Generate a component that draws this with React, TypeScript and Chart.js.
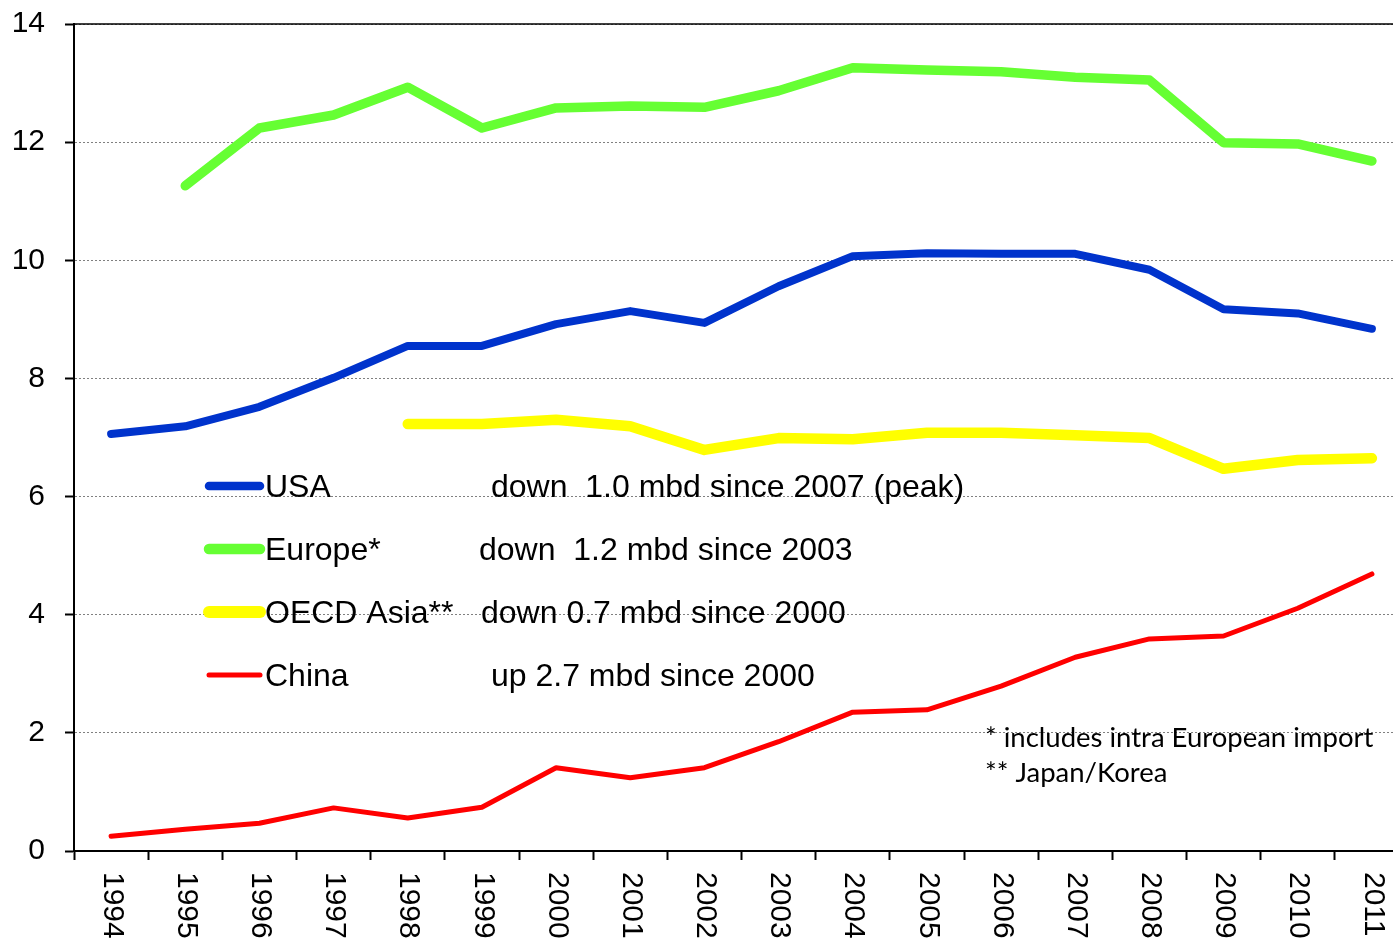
import React, { useEffect, useRef } from "react";
import { Chart, registerables } from "chart.js";

Chart.register(...registerables);

// Net oil imports, million barrels per day
const years = [
  "1994", "1995", "1996", "1997", "1998", "1999", "2000", "2001", "2002",
  "2003", "2004", "2005", "2006", "2007", "2008", "2009", "2010", "2011",
];

const usa = [
  7.06, 7.19, 7.52, 8.01, 8.55, 8.55, 8.92, 9.14, 8.94,
  9.56, 10.07, 10.12, 10.11, 10.11, 9.84, 9.17, 9.1, 8.84,
];

const europe = [
  null, 11.26, 12.24, 12.46, 12.93, 12.24, 12.58, 12.61, 12.59,
  12.87, 13.26, 13.22, 13.19, 13.1, 13.05, 11.99, 11.97, 11.68,
];

const oecdAsia = [
  null, null, null, null, 7.23, 7.23, 7.3, 7.19, 6.79,
  6.99, 6.97, 7.08, 7.08, 7.04, 6.99, 6.47, 6.62, 6.65,
];

const china = [
  0.25, 0.37, 0.47, 0.73, 0.56, 0.74, 1.41, 1.24, 1.41,
  1.85, 2.35, 2.39, 2.79, 3.28, 3.59, 3.64, 4.11, 4.69,
];

const yTicks = [0, 2, 4, 6, 8, 10, 12, 14];

const seriesNames = ["USA", "Europe*", "OECD Asia**", "China"];
const seriesNotes = [
  "down  1.0 mbd since 2007 (peak)",
  "down  1.2 mbd since 2003",
  "down 0.7 mbd since 2000",
  "up 2.7 mbd since 2000",
];
const seriesColors = ["#0033CC", "#66FF33", "#FFFF00", "#FF0000"];
const seriesWidths = [8, 9.5, 10.5, 5];
const keyWidths = [8.5, 10.5, 12, 5];

const footnotes = ["* includes intra European import", "** Japan/Korea"];

const SANS = "'Liberation Sans', Arial, sans-serif";

// Solid frame line along the top of the plot
const topFrame = {
  id: "topFrame",
  afterDatasetsDraw(chart: any) {
    const { ctx, chartArea } = chart;
    ctx.save();
    ctx.strokeStyle = "#000";
    ctx.lineWidth = 1.5;
    ctx.beginPath();
    ctx.moveTo(chartArea.left, chartArea.top);
    ctx.lineTo(chart.width, chartArea.top);
    ctx.stroke();
    ctx.restore();
  },
};

// Year labels turned to read top-to-bottom under each category
const yearLabels = {
  id: "yearLabels",
  afterDraw(chart: any) {
    const { ctx } = chart;
    const xs = chart.scales.x;
    ctx.save();
    ctx.fillStyle = "#000";
    ctx.font = `30px ${SANS}`;
    ctx.textAlign = "left";
    ctx.textBaseline = "middle";
    years.forEach((label, i) => {
      const x = xs.getPixelForValue(i);
      ctx.save();
      ctx.translate(x + 1, xs.top + 21);
      ctx.rotate(Math.PI / 2);
      ctx.fillText(label, 0, 0);
      ctx.restore();
    });
    ctx.restore();
  },
};

// Inline key with the change notes, plus the footnotes
const keyAndNotes = {
  id: "keyAndNotes",
  afterDatasetsDraw(chart: any) {
    const { ctx } = chart;
    const rowY = [486, 549, 612, 675];
    const noteX = [491, 479, 481, 491];
    ctx.save();
    ctx.lineCap = "round";
    seriesNames.forEach((name, i) => {
      const y = rowY[i];
      ctx.strokeStyle = seriesColors[i];
      ctx.lineWidth = keyWidths[i];
      ctx.beginPath();
      ctx.moveTo(209, y);
      ctx.lineTo(260, y);
      ctx.stroke();
      ctx.fillStyle = "#000";
      ctx.font = `32px ${SANS}`;
      ctx.textAlign = "left";
      ctx.textBaseline = "alphabetic";
      ctx.fillText(name, 265, y + 11);
      ctx.fillText(seriesNotes[i], noteX[i], y + 11);
    });
    ctx.font = "27.5px Lato, 'Open Sans', sans-serif";
    ctx.fillText(footnotes[0], 985, 747);
    ctx.fillText(footnotes[1], 985, 782);
    ctx.restore();
  },
};

export default function App() {
  const canvasRef = useRef<HTMLCanvasElement | null>(null);

  useEffect(() => {
    const canvas = canvasRef.current;
    if (!canvas) return;
    const makeSet = (label: string, data: (number | null)[], i: number) => ({
      label,
      data,
      borderColor: seriesColors[i],
      backgroundColor: seriesColors[i],
      borderWidth: seriesWidths[i],
      borderCapStyle: "round" as const,
      borderJoinStyle: "round" as const,
      pointRadius: 0,
      pointHoverRadius: 0,
      tension: 0,
      spanGaps: false,
      fill: false,
    });
    const chart = new Chart(canvas, {
      type: "line",
      data: {
        labels: years,
        datasets: [
          makeSet(seriesNames[3], china, 3),
          makeSet(seriesNames[2], oecdAsia, 2),
          makeSet(seriesNames[0], usa, 0),
          makeSet(seriesNames[1], europe, 1),
        ],
      },
      options: {
        responsive: false,
        animation: false,
        devicePixelRatio: 1,
        layout: { padding: { top: 24, left: 0, right: 11, bottom: 0 } },
        plugins: {
          legend: { display: false },
          tooltip: { enabled: false },
        },
        scales: {
          x: {
            type: "category",
            offset: true,
            afterFit: (s: any) => {
              s.height = 92;
            },
            grid: {
              offset: true,
              drawOnChartArea: false,
              drawTicks: true,
              tickLength: 9,
              tickColor: "#000",
              tickWidth: 2,
            },
            border: { display: true, color: "#000", width: 2 },
            ticks: { display: false },
          },
          y: {
            min: 0,
            max: 14,
            afterFit: (s: any) => {
              s.width = 74;
              s.paddingTop = 0;
              s.paddingBottom = 0;
            },
            afterBuildTicks: (s: any) => {
              s.ticks = yTicks.map((v) => ({ value: v }));
            },
            grid: {
              color: "#808080",
              lineWidth: 1,
              drawTicks: true,
              tickLength: 9,
              tickColor: "#000",
              tickWidth: 2,
              tickBorderDash: [],
            },
            border: { display: true, color: "#000", width: 2, dash: [2, 2] },
            ticks: {
              color: "#000",
              padding: 20,
              font: { family: SANS, size: 30 },
            },
          },
        },
      },
      plugins: [topFrame, keyAndNotes, yearLabels],
    });
    return () => chart.destroy();
  }, []);

  return (
    <div
      style={{
        position: "fixed",
        left: 0,
        top: 0,
        width: 1393,
        height: 943,
        overflow: "hidden",
        background: "#fff",
      }}
    >
      <canvas ref={canvasRef} width={1420} height={943} style={{ display: "block" }} />
    </div>
  );
}
